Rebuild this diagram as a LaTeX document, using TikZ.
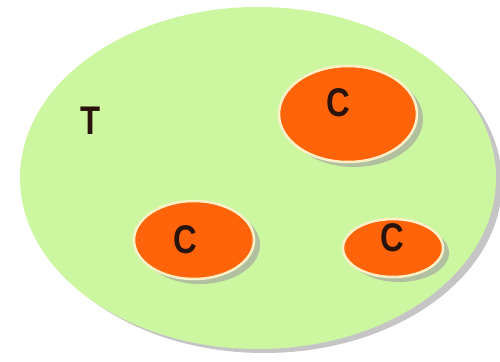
\documentclass[tikz,border=0pt]{standalone}
\usepackage{fontspec}
\setmainfont{Liberation Sans}
\definecolor{tgreen}{RGB}{205,246,160}
\definecolor{corange}{RGB}{255,100,10}
\definecolor{crim}{RGB}{255,240,200}
\definecolor{txt}{RGB}{40,20,10}
\begin{document}
\begin{tikzpicture}[x=1pt,y=-1pt,
  shadowfill/.style={fill=gray!75,opacity=0.6},
  cellbody/.style={fill=corange,draw=crim,line width=2.5pt},
  lbl/.style={font=\fontsize{40}{40}\selectfont\bfseries,text=txt,xscale=0.82}]
\useasboundingbox (0,0) rectangle (500,361);
\fill[white] (0,0) rectangle (500,361);
% big ellipse shadow and body
\fill[shadowfill] (264,183) ellipse [x radius=238, y radius=170];
\fill[tgreen] (258,178) ellipse [x radius=238, y radius=171];
\node[coordinate] (tissue) at (258,178) {};
% cell shadows
\fill[shadowfill] (354,119) ellipse [x radius=69, y radius=48];
\fill[shadowfill] (200,245) ellipse [x radius=60, y radius=39];
\fill[shadowfill] (399,253) ellipse [x radius=50, y radius=29];
% cells
\draw[cellbody] (348,114) ellipse [x radius=69, y radius=48];
\draw[cellbody] (194,240) ellipse [x radius=60, y radius=39];
\draw[cellbody] (393,248) ellipse [x radius=50, y radius=29];
% labels
\node[lbl] (t) at (91,121) {T};
\node[lbl] (c1) at (338,103) {C};
\node[lbl] (c2) at (185,240) {C};
\node[lbl] (c3) at (392,238) {C};
\end{tikzpicture}
\end{document}
